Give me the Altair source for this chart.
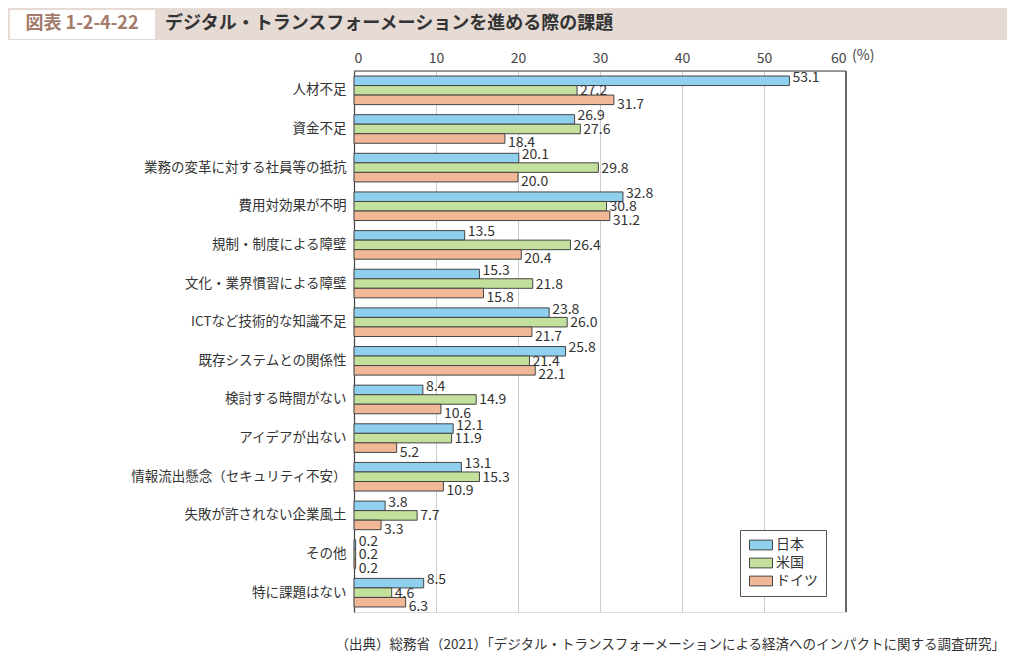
import altair as alt
import pandas as pd

categories = ["人材不足", "資金不足", "業務の変革に対する社員等の抵抗", "費用対効果が不明",
              "規制・制度による障壁", "文化・業界慣習による障壁", "ICTなど技術的な知識不足",
              "既存システムとの関係性", "検討する時間がない", "アイデアが出ない",
              "情報流出懸念（セキュリティ不安）", "失敗が許されない企業風土", "その他", "特に課題はない"]
series = ["日本", "米国", "ドイツ"]
japan = [53.1, 26.9, 20.1, 32.8, 13.5, 15.3, 23.8, 25.8, 8.4, 12.1, 13.1, 3.8, 0.2, 8.5]
usa = [27.2, 27.6, 29.8, 30.8, 26.4, 21.8, 26.0, 21.4, 14.9, 11.9, 15.3, 7.7, 0.2, 4.6]
germany = [31.7, 18.4, 20.0, 31.2, 20.4, 15.8, 21.7, 22.1, 10.6, 5.2, 10.9, 3.3, 0.2, 6.3]
colors = ["#8fd0ef", "#c3e09c", "#f0b897"]

rows = []
for i, c in enumerate(categories):
    for s, vals in zip(series, [japan, usa, germany]):
        rows.append({"cat": c, "series": s, "value": vals[i]})
df = pd.DataFrame(rows)

FONT = "Noto Sans CJK JP"
W, H = 492, 541

ycat = alt.Y("cat:N", sort=categories, title=None,
             scale=alt.Scale(paddingInner=0.26, paddingOuter=0.13),
             axis=alt.Axis(labelFontSize=13.5, labelColor="#333", ticks=False,
                           labelPadding=8, domainColor="#444", domainWidth=1.2,
                           labelFont=FONT, labelLimit=300))
yoff = alt.YOffset("series:N", sort=series, scale=alt.Scale(paddingInner=0, paddingOuter=0))
xenc = alt.X("value:Q", title=None, scale=alt.Scale(domain=[0, 60], nice=False),
             axis=alt.Axis(orient="top", values=[0, 10, 20, 30, 40, 50, 60], labelFontSize=14,
                           labelColor="#444", ticks=False, domain=False, gridColor="#cccccc",
                           labelPadding=6, labelFont=FONT))

base = alt.Chart(df)
bars = base.mark_bar(stroke="#444", strokeWidth=1).encode(
    x=xenc, y=ycat, yOffset=yoff,
    color=alt.Color("series:N", sort=series,
                    scale=alt.Scale(domain=series, range=colors),
                    legend=alt.Legend(title=None, orient="none", legendX=386, legendY=459,
                                      labelFontSize=14, labelFont=FONT, labelColor="#333",
                                      symbolType="M-2,-0.85H2V0.85H-2Z", symbolSize=132,
                                      symbolStrokeColor="#444", symbolStrokeWidth=1,
                                      symbolOffset=6,
                                      strokeColor="#555", fillColor="white", padding=8,
                                      rowPadding=4, labelOffset=8, symbolOpacity=1)),
)

label_layers = []
for s, dy in zip(series, [-3, 1, 5]):
    label_layers.append(
        base.transform_filter(alt.datum.series == s).mark_text(
            align="left", baseline="middle", dx=3, dy=dy, fontSize=14,
            font=FONT, color="#333").encode(
            x="value:Q", y=alt.Y("cat:N", sort=categories),
            yOffset=alt.YOffset("series:N", sort=series),
            text=alt.Text("value:Q", format=".1f")))

dummy = alt.Chart(pd.DataFrame({"a": [0]}))
top_rule = dummy.mark_rule(color="#444", strokeWidth=1.2).encode(
    x=alt.value(0), x2=alt.value(W), y=alt.value(0))
right_rule = dummy.mark_rule(color="#666", strokeWidth=2).encode(
    x=alt.value(W), y=alt.value(0), y2=alt.value(H))
pct = dummy.mark_text(text="(%)", align="left", baseline="middle", fontSize=14,
                      font=FONT, color="#444").encode(x=alt.value(W + 6), y=alt.value(-15))

band = dummy.mark_rect(color="#e6dbd4").encode(
    x=alt.value(-346), x2=alt.value(653), y=alt.value(-63), y2=alt.value(-31))
whitebox = dummy.mark_rect(color="white").encode(
    x=alt.value(-344), x2=alt.value(-199), y=alt.value(-61), y2=alt.value(-32))
fig_no = dummy.mark_text(text="図表 1-2-4-22", align="center", baseline="middle", fontSize=18,
                         fontWeight="bold", font=FONT, color="#a47b6b").encode(
    x=alt.value(-272), y=alt.value(-47))
title = dummy.mark_text(text="デジタル・トランスフォーメーションを進める際の課題", align="left",
                        baseline="middle", fontSize=18, fontWeight="bold", font=FONT,
                        color="#333").encode(x=alt.value(-189), y=alt.value(-47))
source = dummy.mark_text(text="（出典）総務省（2021）「デジタル・トランスフォーメーションによる経済へのインパクトに関する調査研究」",
                         align="right", baseline="middle", fontSize=13.5, font=FONT,
                         color="#333").encode(x=alt.value(651), y=alt.value(574))

chart = alt.layer(band, whitebox, fig_no, title, bars, *label_layers, top_rule, right_rule, pct, source).properties(
    width=W, height=H,
    autosize=alt.AutoSizeParams(type="none"),
    padding={"left": 346, "top": 63, "right": 161, "bottom": 48},
).configure_view(stroke=None).configure(font=FONT)

chart.save("out.html", embed_options={"renderer": "svg", "actions": False})
